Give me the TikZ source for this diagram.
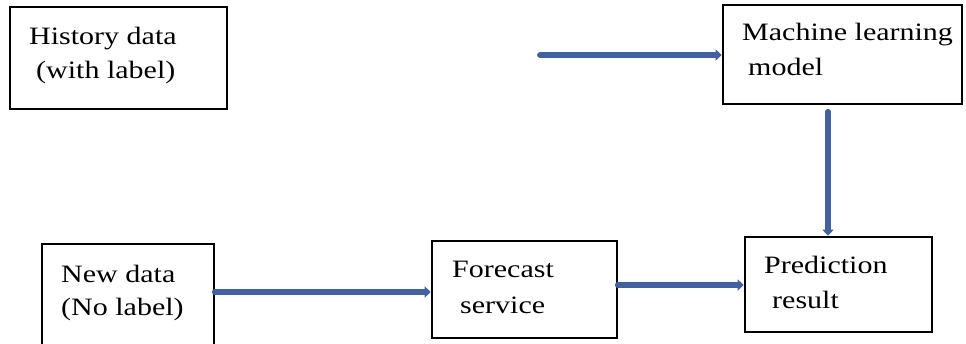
\documentclass[tikz,border=0pt]{standalone}
\usepackage{fontspec}
\setmainfont[FakeStretch=1.2]{Liberation Serif}
\usetikzlibrary{arrows.meta}
\definecolor{arrowblue}{HTML}{41619F}
\tikzset{
  box/.style={draw=black, line width=1.6pt, inner sep=0pt},
  lbl/.style={anchor=base west, inner sep=0pt, font=\fontsize{25}{30}\selectfont},
  flow/.style={draw=arrowblue, line width=5.8pt, line cap=round,
    -{Triangle[length=6pt,width=11pt]}, shorten >=0.5pt},
}
\begin{document}
\begin{tikzpicture}[x=1pt,y=-1pt]
\useasboundingbox (0,0) rectangle (966,343);
% boxes
\node[box, minimum width=217pt, minimum height=102pt] (hist) at (118.5,58) {};
\node[box, minimum width=239pt, minimum height=99pt] (ml) at (842.5,54.5) {};
\node[box, minimum width=172pt, minimum height=110pt] (new) at (128,299) {};
\node[box, minimum width=185pt, minimum height=97pt] (fc) at (524.5,289.5) {};
\node[box, minimum width=187pt, minimum height=95pt] (pred) at (838.5,284.5) {};
% texts
\node[lbl] (t1) at (29,44) {History data};
\node[lbl] (t2) at (36,78) {(with label)};
\node[lbl] (t3) at (742,40) {Machine learning};
\node[lbl] (t4) at (748,75) {model};
\node[lbl] (t5) at (61,282) {New data};
\node[lbl] (t6) at (61,315) {(No label)};
\node[lbl] (t7) at (452,277) {Forecast};
\node[lbl] (t8) at (460,313) {service};
\node[lbl] (t9) at (764,273) {Prediction};
\node[lbl] (t10) at (772,308) {result};
% connectors
\coordinate (s1) at (540,55);
\draw[flow] (s1) -- (s1 -| ml.west);
\draw[flow] (new.east |- 0,292) -- (fc.west |- 0,292);
\draw[flow] (fc.east |- 0,285) -- (pred.west |- 0,285);
\draw[flow] (ml.south -| 828,0) ++(0,7) -- (pred.north -| 828,0);
\end{tikzpicture}
\end{document}
